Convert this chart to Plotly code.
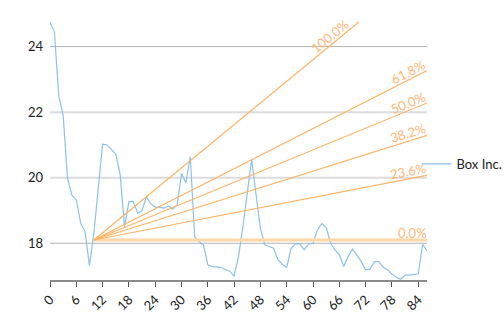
import math
import plotly.graph_objects as go

# ---------------- data ----------------
series_name = "Box Inc."
x_values = list(range(87))
y_values = [
    24.74, 24.45, 22.50, 21.90, 19.98, 19.47, 19.32, 18.61, 18.35, 17.32,
    18.30, 19.63, 21.02, 21.00, 20.85, 20.72, 20.10, 18.50, 19.27, 19.27,
    18.91, 19.00, 19.42, 19.20, 19.10, 19.10, 19.07, 19.14, 19.04, 19.17,
    20.13, 19.85, 20.64, 18.20, 18.05, 17.95, 17.34, 17.29, 17.28, 17.26,
    17.20, 17.15, 17.00, 17.60, 18.50, 19.60, 20.56, 19.50, 18.45, 17.95,
    17.90, 17.85, 17.50, 17.35, 17.27, 17.85, 17.98, 17.98, 17.80, 17.98,
    18.00, 18.40, 18.60, 18.49, 18.00, 17.80, 17.65, 17.29, 17.60, 17.82,
    17.64, 17.44, 17.19, 17.21, 17.44, 17.44, 17.27, 17.19, 17.06, 16.96,
    16.90, 17.03, 17.03, 17.05, 17.07, 17.97, 17.77,
]
fan_start = (10, 18.10)
fan_end = (32, 20.52)
fan_levels = [0.0, 0.236, 0.382, 0.5, 0.618, 1.0]
fan_labels = ["0.0%", "23.6%", "38.2%", "50.0%", "61.8%", "100.0%"]
x_ticks = list(range(0, 85, 6))
y_ticks = [18, 20, 22, 24]
x_range = [0, 86]
y_range = [16.88, 24.75]

# ---------------- style ----------------
W, H = 504, 315
ML, MR, MT, MB = 50, 77, 22, 35
FONT = "Segoe UI, Lato, Open Sans, sans-serif"
LINE_BLUE = "#8cc2ea"
FAN_COLOR = "#ffb464"
LABEL_COLOR = "#ffb877"

plot_w = W - ML - MR
plot_h = H - MT - MB
px_per_x = plot_w / (x_range[1] - x_range[0])
px_per_y = plot_h / (y_range[1] - y_range[0])

fig = go.Figure()

# grid lines (alternating appearance as in the reference)
for i, yv in enumerate(y_ticks):
    strong = (yv in (18, 24))
    fig.add_shape(type="line", xref="paper", yref="y", x0=0, x1=1, y0=yv, y1=yv,
                  line=dict(color="#b4b4b4" if strong else "#dcdcdc",
                            width=1 if strong else 2), layer="below")

fig.add_trace(go.Scatter(x=x_values, y=y_values, mode="lines", name=series_name,
                         line=dict(color=LINE_BLUE, width=1.2)))

# Fibonacci fan
x0, y0 = fan_start
x1, y1 = fan_end
dx = x1 - x0
dy = y1 - y0
xe_full = x_range[1]
for lvl, lab in zip(fan_levels, fan_labels):
    slope = lvl * dy / dx
    yend = y0 + slope * (xe_full - x0)
    if yend > y_range[1]:
        xend = x0 + (y_range[1] - y0) / slope
        yend = y_range[1]
        gap = 10
    else:
        xend = xe_full
        gap = 0
    width = 3 if lvl == 0 else 1.2
    color = "#ffd6a6" if lvl == 0 else FAN_COLOR
    fig.add_trace(go.Scatter(x=[x0, xend], y=[y0, yend], mode="lines",
                             line=dict(color=color, width=width),
                             showlegend=False, hoverinfo="skip"))
    # label
    ang = math.atan(slope * px_per_y / px_per_x)
    tw = 7.2 * sum(c.isdigit() for c in lab) + 3.5 * lab.count(".") + 10.5 * lab.count("%")
    a = tw / 2 + gap
    b = 7.5
    offx = -a * math.cos(ang) - b * math.sin(ang)
    offy_up = -a * math.sin(ang) + b * math.cos(ang)
    fig.add_annotation(x=xend, y=yend, xref="x", yref="y", text=lab, showarrow=False,
                       xanchor="center", yanchor="middle",
                       textangle=-math.degrees(ang),
                       xshift=offx, yshift=offy_up,
                       font=dict(family=FONT, size=13, color=LABEL_COLOR))

fig.update_layout(
    width=W, height=H,
    margin=dict(l=ML, r=MR, t=MT, b=MB, autoexpand=False),
    paper_bgcolor="white", plot_bgcolor="white",
    font=dict(family=FONT, size=13, color="#222222"),
    showlegend=True,
    legend=dict(x=0.972, xanchor="left", y=0.45, yanchor="middle",
                bgcolor="rgba(0,0,0,0)", font=dict(size=13, color="#222222"),
                itemwidth=30, tracegroupgap=0, borderwidth=0),
    xaxis=dict(range=x_range, tickvals=x_ticks, ticktext=[str(v) for v in x_ticks],
               tickangle=-45, showgrid=False, zeroline=False,
               showline=True, linecolor="#8a8a8a", linewidth=2,
               ticks="outside", ticklen=5, tickcolor="#555555", tickwidth=1,
               automargin=False, fixedrange=True),
    yaxis=dict(range=y_range, tickvals=y_ticks, ticktext=[str(v) for v in y_ticks],
               showgrid=False, zeroline=False, showline=False, ticks="",
               ticklabelstandoff=6, automargin=False, fixedrange=True),
)

fig.write_html("out.html")
